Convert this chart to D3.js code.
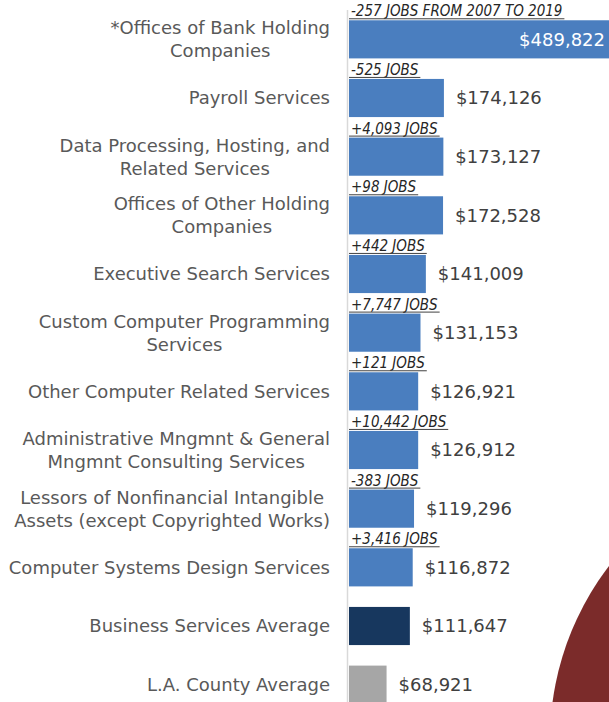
<!DOCTYPE html>
<html>
<head>
<meta charset="utf-8">
<script src="https://cdn.jsdelivr.net/npm/d3@7"></script>
<style>
    html, body { margin: 0; padding: 0; background: #fff; overflow: hidden; }
    svg { display: block; }
</style>
</head>
<body>
<svg class="svg-canvas"></svg>
<script>
// industries, highest average wage first
const categories = [
    ["*Offices of Bank Holding", "Companies"],
    ["Payroll Services"],
    ["Data Processing, Hosting, and", "Related Services"],
    ["Offices of Other Holding", "Companies"],
    ["Executive Search Services"],
    ["Custom Computer Programming", "Services"],
    ["Other Computer Related Services"],
    ["Administrative Mngmnt & General", "Mngmnt Consulting Services"],
    ["Lessors of Nonfinancial Intangible", "Assets (except Copyrighted Works)"],
    ["Computer Systems Design Services"],
    ["Business Services Average"],
    ["L.A. County Average"]
];
const wages = [489822, 174126, 173127, 172528, 141009, 131153, 126921, 126912, 119296, 116872, 111647, 68921];
const jobChange = ["-257 JOBS FROM 2007 TO 2019", "-525 JOBS", "+4,093 JOBS", "+98 JOBS", "+442 JOBS",
    "+7,747 JOBS", "+121 JOBS", "+10,442 JOBS", "-383 JOBS", "+3,416 JOBS", "", ""];
const barKind = ["industry", "industry", "industry", "industry", "industry", "industry",
    "industry", "industry", "industry", "industry", "business", "county"];

const width = 609, height = 702;
const colors = { industry: "#4a7ebf", business: "#17375e", county: "#a6a6a6" };
const labelFont = "'DejaVu Sans', sans-serif";

const svg = d3.select(".svg-canvas")
    .attr("width", width)
    .attr("height", height)
    .attr("viewBox", [0, 0, width, height]);

// decorative background disc in the corner
svg.append("circle")
    .attr("cx", 836)
    .attr("cy", 740)
    .attr("r", 286)
    .attr("fill", "#7b2b2a");

const idx = d3.range(wages.length);

const yScale = d3.scaleBand()
    .domain(idx)
    .range([10, 714])
    .paddingInner(0.35)
    .paddingOuter(0.175);

const xScale = d3.scaleLinear()
    .domain([0, 489822])
    .range([349, 616]);

// axis line
svg.append("line")
    .attr("x1", 347.5).attr("x2", 347.5)
    .attr("y1", 10).attr("y2", height)
    .attr("stroke", "#d9d9d9")
    .attr("stroke-width", 1.5);

svg.append("g")
    .selectAll("rect")
    .data(idx)
    .join("rect")
    .attr("x", xScale(0))
    .attr("y", i => yScale(i))
    .attr("width", i => xScale(wages[i]) - xScale(0))
    .attr("height", yScale.bandwidth())
    .attr("fill", i => colors[barKind[i]]);

// value labels
const fmt = d3.format("$,");
svg.append("g")
    .selectAll("text")
    .data(idx)
    .join("text")
    .attr("x", i => i === 0 ? 605 : xScale(wages[i]) + 12)
    .attr("y", i => yScale(i) + yScale.bandwidth() / 2)
    .attr("dy", "0.36em")
    .attr("text-anchor", i => i === 0 ? "end" : "start")
    .attr("fill", i => i === 0 ? "#fff" : "#404040")
    .style("font-family", labelFont)
    .style("font-size", "18px")
    .text(i => fmt(wages[i]));

// job change notes above the bars
const notes = svg.append("g")
    .selectAll("g")
    .data(idx.filter(i => jobChange[i]))
    .join("g");

notes.append("text")
    .attr("x", 351)
    .attr("y", i => yScale(i) - 4)
    .attr("fill", "#262626")
    .style("font-family", "'DejaVu Sans Condensed', 'DejaVu Sans', sans-serif")
    .style("font-style", "italic")
    .style("font-size", "15px")
    .text(i => jobChange[i]);

notes.each(function (i) {
    const t = d3.select(this).select("text");
    const w = t.node().getComputedTextLength();
    d3.select(this).append("line")
        .attr("x1", 349).attr("x2", 353 + w)
        .attr("y1", yScale(i) - 1.5).attr("y2", yScale(i) - 1.5)
        .attr("stroke", "#404040")
        .attr("stroke-width", 1);
});

// category labels, each block centred on its widest line, right edge at 330
const cats = svg.append("g")
    .selectAll("text")
    .data(idx)
    .join("text")
    .attr("fill", "#595959")
    .attr("text-anchor", "middle")
    .style("font-family", labelFont)
    .style("font-size", "18px");

cats.each(function (i) {
    const t = d3.select(this);
    const lines = categories[i];
    const cy = yScale(i) + yScale.bandwidth() / 2;
    const spans = t.selectAll("tspan")
        .data(lines)
        .join("tspan")
        .text(d => d);
    let maxW = 0;
    spans.each(function () { maxW = Math.max(maxW, this.getComputedTextLength()); });
    const cx = 330 - maxW / 2;
    spans.attr("x", cx)
        .attr("y", (d, k) => cy + (k - (lines.length - 1) / 2) * 23)
        .attr("dy", "0.36em");
});
</script>
</body>
</html>
